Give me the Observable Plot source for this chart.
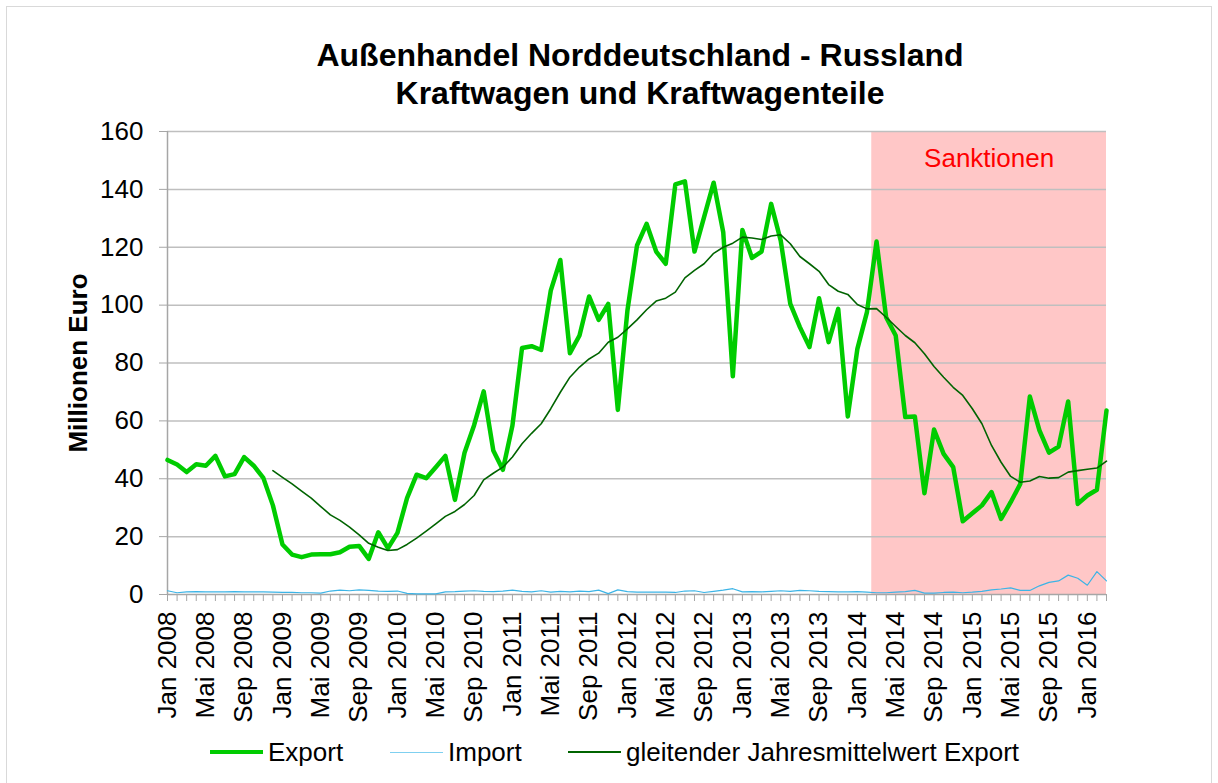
<!DOCTYPE html>
<html><head><meta charset="utf-8">
<script src="https://cdn.jsdelivr.net/npm/d3@7"></script>
<script src="https://cdn.jsdelivr.net/npm/@observablehq/plot@0.6"></script>
<style>
body{margin:0;background:#fff;font-family:"Liberation Sans",Arial,sans-serif;}
#wrap{position:relative;width:1218px;height:783px;overflow:hidden;background:#fff}
#frame{position:absolute;left:6px;top:6px;width:1206px;height:790px;border:1px solid #d9d9d9;box-sizing:border-box}
#title{position:absolute;top:36px;left:0;width:1280px;text-align:center;font-weight:bold;font-size:32px;line-height:38px;color:#000}
#chart{position:absolute;left:0;top:115px}
.leg{position:absolute;top:737px;height:30px;display:flex;align-items:center;font-size:26px;color:#000;white-space:nowrap}
.leg span.sw{display:inline-block;width:53px;margin-right:5px}
</style></head>
<body><div id="wrap"><div id="frame"></div>
<div id="title">Außenhandel Norddeutschland - Russland<br>Kraftwagen und Kraftwagenteile</div>
<div id="chart"></div>
<div class="leg" style="left:210px"><span class="sw" style="border-top:4.5px solid #00cc00"></span>Export</div>
<div class="leg" style="left:390px"><span class="sw" style="border-top:1.5px solid #7fd0f0"></span>Import</div>
<div class="leg" style="left:568px"><span class="sw" style="border-top:2px solid #006400"></span>gleitender Jahresmittelwert Export</div>
</div>
<script>
const startYear = 2008;
const monthNames = ["Jan","Feb","Mrz","Apr","Mai","Jun","Jul","Aug","Sep","Okt","Nov","Dez"];
const tickLabels = ["Jan 2008","Mai 2008","Sep 2008","Jan 2009","Mai 2009","Sep 2009","Jan 2010","Mai 2010","Sep 2010","Jan 2011","Mai 2011","Sep 2011","Jan 2012","Mai 2012","Sep 2012","Jan 2013","Mai 2013","Sep 2013","Jan 2014","Mai 2014","Sep 2014","Jan 2015","Mai 2015","Sep 2015","Jan 2016"];
const yTicks = [0,20,40,60,80,100,120,140,160];

const exportVals = [
 46.5,44.9,42.3,45.0,44.5,47.9,40.8,41.6,47.5,44.5,40.3,30.8,
 17.3,13.8,12.9,13.8,13.9,13.9,14.6,16.5,16.8,12.3,21.5,16.0,
 21.3,33.3,41.4,40.2,44.0,47.9,32.7,49.0,58.5,70.2,49.8,43.1,
 58.4,85.2,85.8,84.5,105.0,115.6,83.4,89.5,103.0,94.9,100.4,63.8,
 98.1,120.6,128.1,118.5,114.3,141.7,142.8,118.5,130.4,142.3,125.2,75.4,
 126.0,116.3,118.5,135.0,122.3,100.4,92.4,85.5,102.4,87.2,98.7,61.5,
 84.9,97.6,122.0,95.8,89.5,61.3,61.5,35.0,57.0,48.6,44.0,25.3,
 28.1,30.8,35.4,26.1,31.9,38.2,68.4,56.7,49.0,51.1,66.7,31.3,
 34.2,36.2,63.6];
const importVals = [
 1.3,0.6,0.9,1.0,0.9,0.9,0.9,1.0,0.9,0.9,0.9,0.8,
 0.7,0.7,0.6,0.6,0.5,1.2,1.5,1.3,1.6,1.4,1.2,1.1,
 1.2,0.4,0.2,0.2,0.2,0.9,1.0,1.2,1.3,1.1,1.0,1.2,
 1.5,1.1,0.9,1.3,0.8,1.1,0.9,1.2,1.0,1.5,0.3,1.6,
 1.0,0.8,0.8,0.8,0.8,0.7,1.2,1.3,0.7,1.1,1.5,2.0,
 0.9,1.0,0.9,1.1,1.3,1.1,1.4,1.3,1.1,1.0,0.9,0.9,
 1.0,0.8,0.6,0.6,0.8,1.0,1.4,0.5,
 0.5,0.7,0.8,0.6,0.8,1.1,1.6,1.9,2.3,1.4,1.4,3.0,4.2,4.7,6.7,5.6,3.2,7.9,4.7];
const maVals = [
 null,null,null,null,null,null,null,null,null,null,null,42.8,
 40.5,38.2,35.7,33.3,30.4,27.5,25.6,23.3,20.6,17.7,16.3,15.2,
 15.5,17.3,19.5,21.9,24.4,27.0,28.7,31.1,34.2,39.6,41.9,44.0,
 47.5,52.1,55.7,59.0,64.2,69.9,75.1,78.6,81.4,83.4,87.2,88.9,
 91.8,94.9,98.4,101.4,102.4,104.5,109.4,112.0,114.3,117.9,120.0,121.4,
 123.5,123.2,122.7,123.9,124.3,121.2,116.8,114.3,111.7,107.1,104.8,103.7,
 100.2,98.7,98.8,95.8,92.6,89.5,87.0,83.2,78.8,75.1,71.6,68.8,
 64.2,59.0,51.5,45.7,40.8,38.8,39.2,40.8,40.2,40.4,42.3,42.8,
 43.3,43.7,46.1];
const sanctions = [{start: 73.5, end: 98, label: "Sanktionen"}];

const months = exportVals.map((_, i) => monthNames[i % 12] + " " + (startYear + Math.floor(i / 12)));
const table = exportVals.map((v, i) => ({i, month: months[i], exp: v, imp: importVals[i], ma: maVals[i]}));

const chart = Plot.plot({
  width: 1218,
  height: 610,
  marginTop: 16,
  marginBottom: 131,
  marginLeft: 167,
  marginRight: 112,
  style: {fontFamily: "'Liberation Sans', Arial, sans-serif", fontSize: "26px", color: "#000", background: "transparent"},
  x: {type: "linear", domain: [0, exportVals.length - 1]},
  y: {domain: [0, 160]},
  marks: [
    Plot.rect(sanctions, {x1: "start", x2: "end", y1: 0, y2: 160, fill: "#ffc7c7"}),
    Plot.gridY(yTicks.slice(1), {stroke: "#bfbfbf", strokeOpacity: 1, strokeWidth: 1.5}),
    Plot.text(sanctions, {x: d => (d.start + d.end) / 2, text: "label", frameAnchor: "top", dy: 17, fill: "#ff0000", fontSize: 26}),
    Plot.axisY({ticks: yTicks, tickSize: 8, tickPadding: 16, stroke: "#a6a6a6", fill: "#000", fontSize: 26, label: null}),
    Plot.axisX({ticks: d3.range(exportVals.length), tickSize: 7, tickPadding: 10, tickRotate: -90, stroke: "#a6a6a6", fill: "#000", fontSize: 26, label: null,
      tickFormat: i => (i % 4 === 0 ? tickLabels[i / 4] : "")}),
    Plot.ruleY([0], {stroke: "#a6a6a6", strokeWidth: 1.5}),
    Plot.ruleX([0], {stroke: "#a6a6a6", strokeWidth: 1.5}),
    Plot.text(["Millionen Euro"], {frameAnchor: "left", textAnchor: "middle", rotate: -90, dx: -89, fontWeight: "bold", fontSize: 26, fill: "#000"}),
    Plot.line(table, {x: "i", y: "imp", stroke: "#3cb4e6", strokeWidth: 1.2}),
    Plot.line(table, {x: "i", y: "exp", stroke: "#00cc00", strokeWidth: 4.5, strokeLinejoin: "round"}),
    Plot.line(table.filter(d => d.ma != null), {x: "i", y: "ma", stroke: "#006400", strokeWidth: 1.6})
  ]
});
document.getElementById("chart").appendChild(chart);
</script>
</body></html>
